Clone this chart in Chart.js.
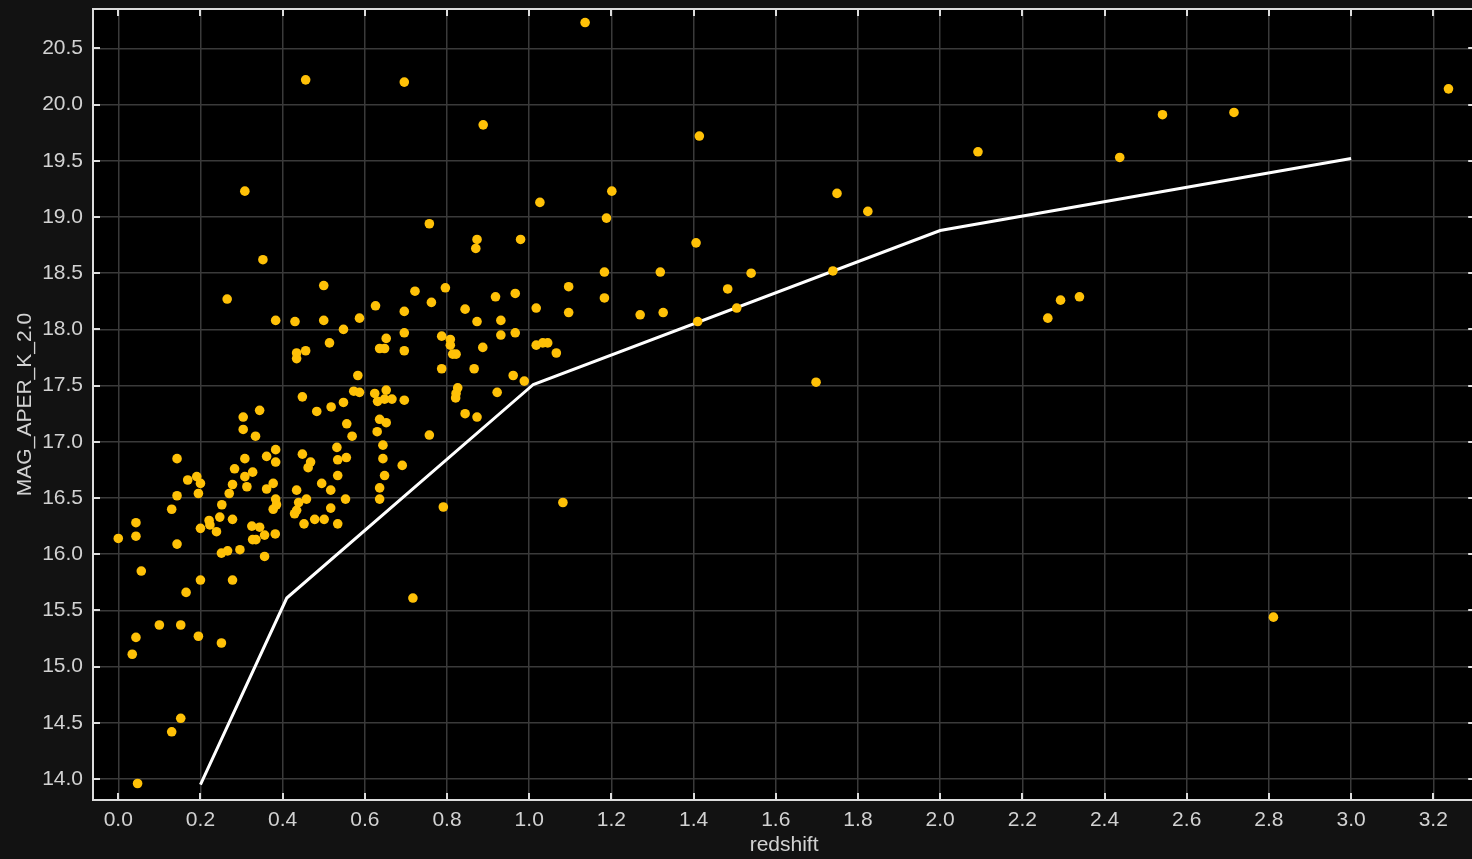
<!DOCTYPE html>
<html>
<head>
<meta charset="utf-8">
<script src="https://cdn.jsdelivr.net/npm/chart.js@4.4.1/dist/chart.umd.min.js"></script>
<style>
  html, body { margin: 0; padding: 0; background: #121212; overflow: hidden; }
  #wrap { width: 1480px; height: 859px; }
</style>
</head>
<body>
<div id="wrap"><canvas id="c" width="1480" height="859"></canvas></div>
<script>
// ---- data ----
const redshift = [
  1.136,0.456,0.696,0.888,1.414,2.541,2.715,3.237,2.437,2.092,
  0.308,1.201,1.026,1.749,1.824,1.188,0.757,0.873,0.870,0.979,
  1.406,0.352,1.183,1.319,1.540,1.739,0.796,1.096,0.500,1.483,
  0.722,0.918,0.966,2.339,2.293,1.183,0.265,0.762,0.626,0.844,
  1.017,1.505,1.270,1.326,1.096,0.696,2.262,0.587,0.383,0.430,
  0.500,0.873,0.931,1.410,0.548,0.514,0.696,0.931,0.966,0.652,
  0.787,0.808,0.808,0.814,0.822,0.636,0.648,0.696,0.887,1.017,
  1.033,1.045,1.066,0.434,0.434,0.456,0.583,0.787,0.866,0.961,
  0.988,0.573,0.587,0.624,0.631,0.652,0.648,0.666,0.696,0.826,
  0.822,0.821,0.922,0.548,0.518,0.448,0.483,0.344,0.304,0.304,
  0.334,0.636,0.652,0.556,0.844,0.873,0.569,0.630,0.757,0.644,
  0.644,0.691,0.648,0.636,0.636,0.791,1.082,0.717,1.698,2.811,
  0.383,0.361,0.383,0.448,0.468,0.462,0.532,0.534,0.555,0.534,
  0.143,0.308,0.283,0.308,0.327,0.278,0.313,0.270,0.191,0.169,
  0.200,0.195,0.143,0.361,0.377,0.383,0.385,0.377,0.434,0.458,
  0.439,0.434,0.429,0.495,0.517,0.517,0.553,0.534,0.478,0.501,
  0.452,0.130,0.252,0.247,0.278,0.221,0.223,0.200,0.239,0.325,
  0.344,0.356,0.327,0.335,0.382,0.043,0.043,0.000,0.143,0.251,
  0.266,0.296,0.356,0.056,0.200,0.278,0.165,0.100,0.152,0.043,
  0.195,0.251,0.034,0.152,0.130,0.047
];
const magK = [
  20.73,20.22,20.20,19.82,19.72,19.91,19.93,20.14,19.53,19.58,
  19.23,19.23,19.13,19.21,19.05,18.99,18.94,18.80,18.72,18.80,
  18.77,18.62,18.51,18.51,18.50,18.52,18.37,18.38,18.39,18.36,
  18.34,18.29,18.32,18.29,18.26,18.28,18.27,18.24,18.21,18.18,
  18.19,18.19,18.13,18.15,18.15,18.16,18.10,18.10,18.08,18.07,
  18.08,18.07,18.08,18.07,18.00,17.88,17.97,17.95,17.97,17.92,
  17.94,17.91,17.86,17.78,17.78,17.83,17.83,17.81,17.84,17.86,
  17.88,17.88,17.79,17.79,17.74,17.81,17.59,17.65,17.65,17.59,
  17.54,17.45,17.44,17.43,17.36,17.46,17.38,17.38,17.37,17.48,
  17.43,17.39,17.44,17.35,17.31,17.40,17.27,17.28,17.22,17.11,
  17.05,17.20,17.17,17.16,17.25,17.22,17.05,17.09,17.06,16.97,
  16.85,16.79,16.70,16.59,16.49,16.42,16.46,15.61,17.53,15.44,
  16.93,16.87,16.82,16.89,16.82,16.77,16.95,16.84,16.86,16.70,
  16.85,16.85,16.76,16.69,16.73,16.62,16.60,16.54,16.69,16.66,
  16.63,16.54,16.52,16.58,16.63,16.49,16.44,16.40,16.57,16.49,
  16.46,16.39,16.36,16.63,16.57,16.41,16.49,16.27,16.31,16.31,
  16.27,16.40,16.44,16.33,16.31,16.30,16.26,16.23,16.20,16.25,
  16.24,16.17,16.13,16.13,16.18,16.28,16.16,16.14,16.09,16.01,
  16.03,16.04,15.98,15.85,15.77,15.77,15.66,15.37,15.37,15.26,
  15.27,15.21,15.11,14.54,14.42,13.96
];
const limitZ   = [0.20, 0.41, 1.01, 2.00, 3.00];
const limitMag = [13.95, 15.61, 17.51, 18.88, 19.52];

const xTicks = [0.0,0.2,0.4,0.6,0.8,1.0,1.2,1.4,1.6,1.8,2.0,2.2,2.4,2.6,2.8,3.0,3.2];
const yTicks = [14.0,14.5,15.0,15.5,16.0,16.5,17.0,17.5,18.0,18.5,19.0,19.5,20.0,20.5];
const xTitle = 'redshift';
const yTitle = 'MAG_APER_K_2.0';

// ---- styling ----
const FONT = '"Liberation Sans", Arial, Helvetica, sans-serif';
const TEXT = '#d2d2d2';
const FRAME = '#dcdcdc';

const points = redshift.map((z, i) => ({ x: z, y: magK[i] }));
const linePts = limitZ.map((z, i) => ({ x: z, y: limitMag[i] }));

const framePlugin = {
  id: 'frame',
  beforeDraw(chart) {
    const { ctx, chartArea: a } = chart;
    ctx.save();
    ctx.fillStyle = '#000000';
    ctx.fillRect(a.left, a.top, a.right - a.left, a.bottom - a.top);
    ctx.restore();
  },
  afterDatasetsDraw(chart) {
    const { ctx, chartArea: a, scales } = chart;
    ctx.save();
    ctx.strokeStyle = FRAME;
    ctx.lineWidth = 2;
    ctx.beginPath();
    const L = 7;
    scales.x.ticks.forEach(t => {
      const px = Math.round(scales.x.getPixelForValue(t.value));
      ctx.moveTo(px, a.bottom); ctx.lineTo(px, a.bottom - L);
      ctx.moveTo(px, a.top); ctx.lineTo(px, a.top + L);
    });
    scales.y.ticks.forEach(t => {
      const py = Math.round(scales.y.getPixelForValue(t.value));
      ctx.moveTo(a.left, py); ctx.lineTo(a.left + L, py);
      ctx.moveTo(a.right, py); ctx.lineTo(a.right - L, py);
    });
    ctx.stroke();
    ctx.lineWidth = 2;
    ctx.strokeRect(a.left, a.top, a.right - a.left, a.bottom - a.top);
    ctx.restore();
  }
};

new Chart(document.getElementById('c'), {
  data: {
    datasets: [
      {
        type: 'scatter',
        label: 'sources',
        data: points,
        order: 0,
        backgroundColor: '#FFC107',
        borderColor: '#FFC107',
        borderWidth: 0,
        pointRadius: 4.8,
        pointHoverRadius: 4.8
      },
      {
        type: 'line',
        label: 'limit',
        data: linePts,
        order: 1,
        borderColor: '#ffffff',
        borderWidth: 3,
        pointRadius: 0,
        tension: 0,
        fill: false
      }
    ]
  },
  options: {
    responsive: false,
    animation: false,
    devicePixelRatio: 1,
    layout: { padding: { left: 0, top: 9, right: 3, bottom: 0 } },
    plugins: { legend: { display: false }, tooltip: { enabled: false } },
    scales: {
      x: {
        type: 'linear',
        min: -0.0615,
        max: 3.302,
        afterBuildTicks: s => { s.ticks = xTicks.map(v => ({ value: v })); },
        afterFit: s => { s.height = 59; s.paddingLeft = 0; s.paddingRight = 0; },
        grid: { color: '#3a3a3a', lineWidth: 1.5, drawTicks: false },
        border: { display: false },
        ticks: {
          color: TEXT, padding: 8, maxRotation: 0, autoSkip: false,
          font: { family: FONT, size: 21 },
          callback: v => Number(v).toFixed(1)
        },
        title: {
          display: true, text: xTitle, color: TEXT,
          font: { family: FONT, size: 21 },
          padding: { top: 0, bottom: 1 }
        }
      },
      y: {
        type: 'linear',
        min: 13.8132,
        max: 20.8505,
        afterBuildTicks: s => { s.ticks = yTicks.map(v => ({ value: v })); },
        afterFit: s => { s.width = 93; s.paddingTop = 0; s.paddingBottom = 0; },
        grid: { color: '#3a3a3a', lineWidth: 1.5, drawTicks: false },
        border: { display: false },
        ticks: {
          color: TEXT, padding: 10, autoSkip: false,
          font: { family: FONT, size: 21 },
          callback: v => Number(v).toFixed(1)
        },
        title: {
          display: true, text: yTitle, color: TEXT,
          font: { family: FONT, size: 21 },
          padding: { top: 13, bottom: 0 }
        }
      }
    }
  },
  plugins: [framePlugin]
});
</script>
</body>
</html>
